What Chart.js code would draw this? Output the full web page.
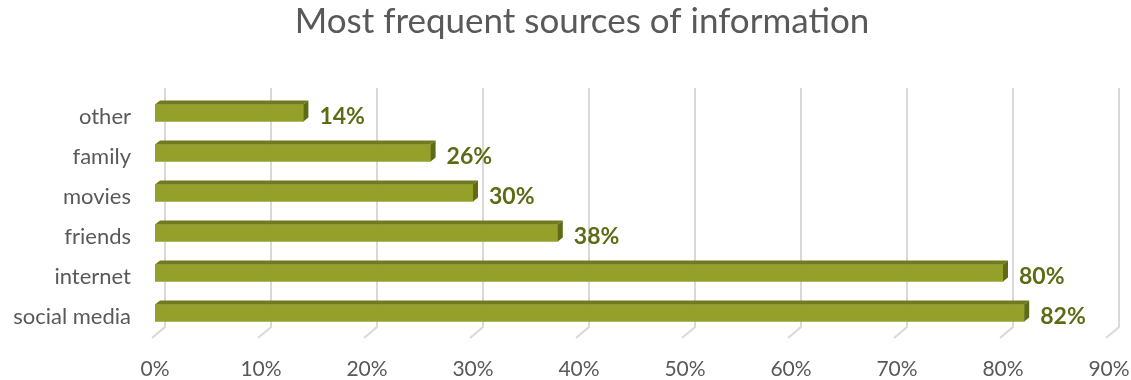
<!DOCTYPE html>
<html lang="en">
  <head>
    <meta charset="UTF-8" />
    <title>Most frequent sources of information</title>
    <script src="https://cdn.jsdelivr.net/npm/chart.js"></script>
    <style>
      body {
        margin: 0;
        background: #ffffff;
      }
      #wrap {
        width: 1131px;
        height: 380px;
      }
    </style>
  </head>
  <body>
    <div id="wrap">
      <canvas id="sourcesChart" width="1131" height="380"></canvas>
    </div>
    <script>
      const titleText = "Most frequent sources of information";
      const categories = ["other", "family", "movies", "friends", "internet", "social media"];
      const shares = [14, 26, 30, 38, 80, 82];
      const tickValues = [0, 10, 20, 30, 40, 50, 60, 70, 80, 90];

      const FONT = "Lato, 'Open Sans', sans-serif";
      const TEXT_GREY = "#595959";
      const FRONT = "#94a02a";
      const TOP = "#6f7b1e";
      const SIDE = "#5f6a17";
      const LABEL = "#5f6b14";

      // title sits centred over the whole plot (labels + bars), not the canvas
      const headline = {
        id: "headline",
        afterDraw(chart) {
          const { ctx, chartArea } = chart;
          ctx.save();
          ctx.fillStyle = TEXT_GREY;
          ctx.font = "35px " + FONT;
          ctx.textAlign = "center";
          ctx.textBaseline = "middle";
          ctx.fillText(titleText, (chartArea.left + chartArea.right) / 2 - 50, 22);
          ctx.restore();
        },
      };

      // back wall gridlines with the little floor step towards the front
      const wallGrid = {
        id: "wallGrid",
        beforeDatasetsDraw(chart) {
          const { ctx, chartArea, scales } = chart;
          ctx.save();
          ctx.strokeStyle = "#d9d9d9";
          ctx.lineWidth = 2;
          tickValues.forEach((v) => {
            const x = scales.x.getPixelForValue(v);
            ctx.beginPath();
            ctx.moveTo(x + 10, chartArea.top - 5);
            ctx.lineTo(x + 10, chartArea.bottom - 6);
            ctx.lineTo(x - 3, chartArea.bottom + 5);
            ctx.stroke();
          });
          ctx.restore();
        },
      };

      // extrude each bar: top face, right face, then the value label
      const barDepth = {
        id: "barDepth",
        afterDatasetsDraw(chart) {
          const { ctx } = chart;
          const meta = chart.getDatasetMeta(0);
          const dx = 5, dy = 4;
          ctx.save();
          meta.data.forEach((bar, i) => {
            const { x, y, base, height } = bar.getProps(["x", "y", "base", "height"], true);
            const top = y - height / 2;
            const bottom = y + height / 2;
            ctx.fillStyle = TOP;
            ctx.beginPath();
            ctx.moveTo(base, top);
            ctx.lineTo(base + dx, top - dy);
            ctx.lineTo(x + dx, top - dy);
            ctx.lineTo(x, top);
            ctx.closePath();
            ctx.fill();
            ctx.fillStyle = SIDE;
            ctx.beginPath();
            ctx.moveTo(x, top);
            ctx.lineTo(x + dx, top - dy);
            ctx.lineTo(x + dx, bottom - dy);
            ctx.lineTo(x, bottom);
            ctx.closePath();
            ctx.fill();

            ctx.fillStyle = LABEL;
            ctx.font = "bold 23px " + FONT;
            ctx.textAlign = "left";
            ctx.textBaseline = "middle";
            ctx.fillText(shares[i] + "%", x + dx + 11, y + 4);
          });
          ctx.restore();
        },
      };

      new Chart(document.getElementById("sourcesChart"), {
        type: "bar",
        data: {
          labels: categories,
          datasets: [
            {
              data: shares,
              backgroundColor: FRONT,
              borderWidth: 0,
              barThickness: 17,
            },
          ],
        },
        options: {
          indexAxis: "y",
          responsive: false,
          animation: false,
          layout: { padding: { left: 0, right: 22, top: 93, bottom: 0 } },
          plugins: {
            legend: { display: false },
            tooltip: { enabled: false },
            title: { display: false },
          },
          scales: {
            x: {
              min: 0,
              max: 90,
              afterBuildTicks(scale) {
                scale.ticks = tickValues.map((v) => ({ value: v }));
              },
              afterFit(scale) {
                scale.height = 47;
                scale.paddingLeft = 0;
                scale.paddingRight = 0;
              },
              grid: { display: false, drawTicks: false },
              border: { display: false },
              ticks: {
                padding: 24,
                color: TEXT_GREY,
                font: { family: FONT, size: 21 },
                callback: (v) => v + "%",
              },
            },
            y: {
              afterFit(scale) {
                scale.width = 155;
              },
              grid: { display: false, drawTicks: false },
              border: { display: false },
              ticks: {
                padding: 24,
                labelOffset: 4,
                color: TEXT_GREY,
                font: { family: FONT, size: 22 },
              },
            },
          },
        },
        plugins: [wallGrid, barDepth, headline],
      });
    </script>
  </body>
</html>
